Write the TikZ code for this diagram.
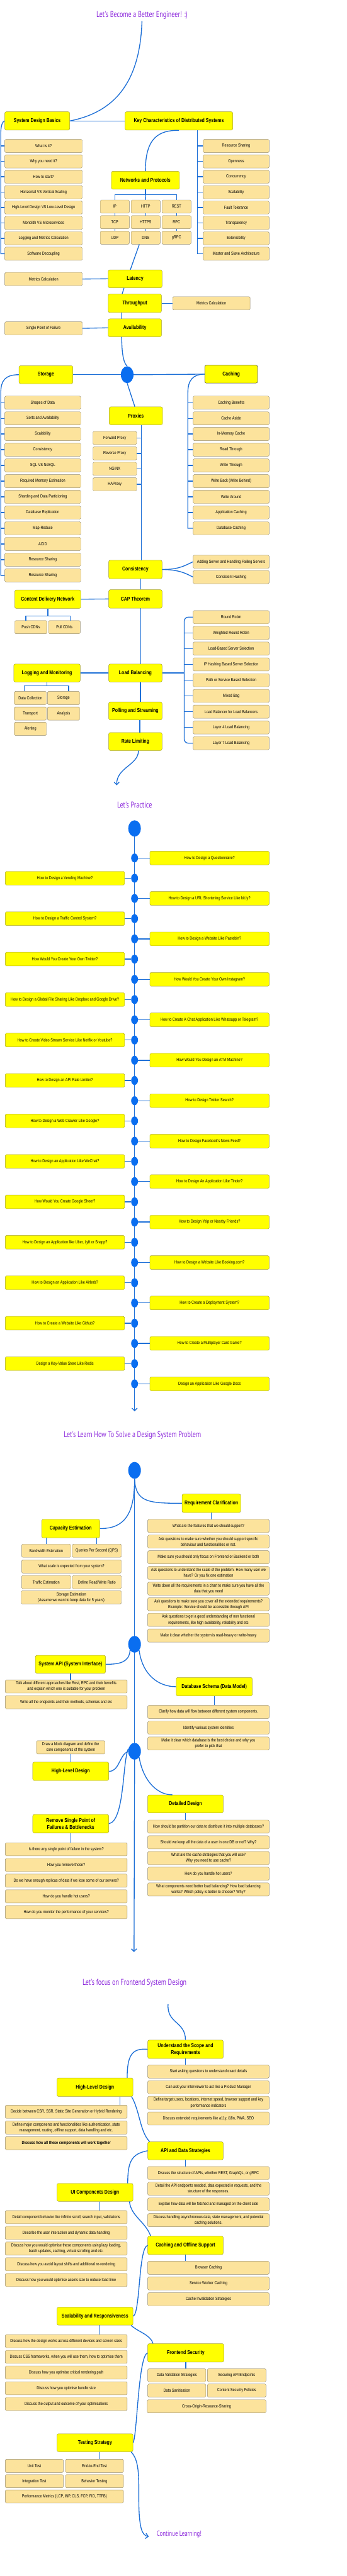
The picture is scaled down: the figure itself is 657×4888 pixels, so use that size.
\documentclass[tikz,border=0pt]{standalone}
\usepackage{fontspec}
\setmainfont{Liberation Sans}[FakeStretch=0.8]
\newfontfamily\titlefont{PT Sans}[FakeStretch=0.75]
\usepackage{tikz}
\usetikzlibrary{shapes.geometric, arrows.meta, positioning}
\definecolor{topicfill}{RGB}{255, 255, 0}
\definecolor{topicline}{RGB}{165, 160, 45}
\definecolor{leaffill}{RGB}{252, 227, 156}
\definecolor{leafline}{RGB}{150, 140, 110}
\definecolor{linkblue}{RGB}{30, 112, 215}
\definecolor{dotblue}{RGB}{10, 110, 240}
\definecolor{headviolet}{RGB}{140, 40, 220}

\begin{document}
\begin{tikzpicture}[
  x=1pt, y=-1pt,
  topic/.style={
    draw=topicline, fill=topicfill, rounded corners=3pt, line width=0.6pt,
    minimum height=34, inner sep=1pt, align=center,
    font=\fontsize{10.4}{13}\selectfont\bfseries
  },
  leaf/.style={
    draw=leafline, fill=leaffill, rounded corners=2pt, line width=0.5pt,
    minimum height=25, inner sep=1pt, align=center,
    font=\fontsize{8.3}{11}\selectfont
  },
  qbox/.style={leaf, draw=topicline, fill=topicfill, minimum width=226, minimum height=26},
  hub/.style={ellipse, fill=dotblue, minimum width=24, minimum height=32, inner sep=0pt},
  bead/.style={ellipse, fill=dotblue, minimum width=13, minimum height=17, inner sep=0pt},
  wire/.style={draw=linkblue, line width=1.6pt},
  tip/.style={-{Straight Barb[length=5pt, width=10pt]}},
  heading/.style={text=headviolet, font=\titlefont\fontsize{16}{19}\selectfont}
]
  \fill[white] (0,0) rectangle (657,4888);
  \useasboundingbox (0,0) rectangle (657,4888);

  % ---------- basics ----------
  \node[heading] (title1) at (269,29) {Let's Become a Better Engineer! :)};
  \node[topic, minimum width=123, minimum height=35] (sdb) at (70.5,229.5) {System Design Basics};
  \node[topic, minimum width=204, minimum height=35] (kcd) at (339,229.5) {Key Characteristics of Distributed Systems};
  \draw[wire] (title1.south) .. controls (265,170) and (205,215) .. (sdb.east);
  \draw[wire] (sdb.east) -- (kcd.west);

  \node[leaf, minimum width=147] (sb1) at (82.5,277) {What is it?};
  \node[leaf, minimum width=147, below=3.7pt of sb1] (sb2) {Why you need it?};
  \node[leaf, minimum width=147, below=3.7pt of sb2] (sb3) {How to start?};
  \node[leaf, minimum width=147, below=3.7pt of sb3] (sb4) {Horizontal VS Vertical Scaling};
  \node[leaf, minimum width=147, below=3.7pt of sb4] (sb5) {High-Level Design VS Low-Level Design};
  \node[leaf, minimum width=147, below=3.7pt of sb5] (sb6) {Monolith VS Microservices};
  \node[leaf, minimum width=147, below=3.7pt of sb6] (sb7) {Logging and Metrics Calculation};
  \node[leaf, minimum width=147, below=3.7pt of sb7] (sb8) {Software Decoupling};
  \draw[wire] (sdb.west) .. controls (6,229.5) and (1.5,236) .. (1.5,252) |- (sb8.west);
  \foreach \i in {1,...,7} \draw[wire] ([xshift=-7.5pt]sb\i.west) -- (sb\i.west);

  \node[leaf, minimum width=125] (kc1) at (447.5,277) {Resource Sharing};
  \node[leaf, minimum width=125, below=3.7pt of kc1] (kc2) {Openness};
  \node[leaf, minimum width=125, below=3.7pt of kc2] (kc3) {Concurrency};
  \node[leaf, minimum width=125, below=3.7pt of kc3] (kc4) {Scalability};
  \node[leaf, minimum width=125, below=3.7pt of kc4] (kc5) {Fault Tolerance};
  \node[leaf, minimum width=125, below=3.7pt of kc5] (kc6) {Transparency};
  \node[leaf, minimum width=125, below=3.7pt of kc6] (kc7) {Extensibility};
  \node[leaf, minimum width=125, below=3.7pt of kc7] (kc8) {Master and Slave Architecture};
  \draw[wire] ([xshift=35pt]kcd.south) |- (kc8.west);
  \foreach \i in {1,...,7} \draw[wire] ([xshift=-11pt]kc\i.west) -- (kc\i.west);

  \node[topic, minimum width=129] (np) at (275.5,342) {Networks and Protocols};
  \draw[wire] (kcd.south) .. controls (300,247) and (275.5,262) .. (np.north);
  \node[leaf, minimum width=55] (p11) at (217.5,392) {IP};
  \node[leaf, minimum width=55] (p12) at (276,392) {HTTP};
  \node[leaf, minimum width=55] (p13) at (334.5,392) {REST};
  \node[leaf, minimum width=55] (p21) at (217.5,421.5) {TCP};
  \node[leaf, minimum width=55] (p22) at (276,421.5) {HTTPS};
  \node[leaf, minimum width=55] (p23) at (334.5,421.5) {RPC};
  \node[leaf, minimum width=55] (p31) at (217.5,451) {UDP};
  \node[leaf, minimum width=55] (p32) at (276,451) {DNS};
  \node[leaf, minimum width=55] (p33) at (334.5,451) {gRPC};
  \draw[wire] (np.south) -- ++(0,10) coordinate (npb);
  \draw[wire] (p11.north) |- (npb) -| (p13.north);
  \draw[wire] (npb) -- (p12.north);
  \foreach \c in {1,2,3} {
    \draw[wire] (p1\c.south) -- (p2\c.north);
    \draw[wire] (p2\c.south) -- (p3\c.north);
  }

  \node[topic, minimum width=102] (lat) at (256,529) {Latency};
  \node[leaf, minimum width=147] (mc1) at (82.5,529.5) {Metrics Calculation};
  \node[topic, minimum width=101, minimum height=35] (thr) at (255.5,575.5) {Throughput};
  \node[leaf, minimum width=147] (mc2) at (400.5,575.5) {Metrics Calculation};
  \node[topic, minimum width=101] (avl) at (255.5,622) {Availability};
  \node[leaf, minimum width=147] (spf) at (82.5,623) {Single Point of Failure};
  \draw[wire] ([xshift=-12pt]p32.south) -- ([xshift=-9pt]lat.north);
  \draw[wire] (mc1.east) -- (lat.west);
  \draw[wire] ([xshift=-21pt]lat.south) -- ([xshift=-24pt]thr.north);
  \draw[wire] (thr.east) -- (mc2.west);
  \draw[wire] ([xshift=-26pt]thr.south) -- ([xshift=-26pt]avl.north);
  \draw[wire] (spf.east) -- (avl.west);

  \node[hub] (hub1) at (241,711) {};
  \node[topic, minimum width=102] (stg) at (87,711) {Storage};
  \node[topic, minimum width=100, draw=black!80] (cch) at (438,710) {Caching};
  \node[topic, minimum width=101] (prx) at (257.5,789) {Proxies};
  \draw[wire] ([xshift=-25pt]avl.south) .. controls (231,680) and (236,690) .. (hub1.north);
  \draw[wire] (hub1.west) -- (stg.east);
  \draw[wire] (hub1.east) -- (cch.west);
  \draw[wire] (hub1.south) -- ([xshift=-2pt]prx.north);

  \node[leaf, minimum width=144] (st1) at (81,764) {Shapes of Data};
  \node[leaf, minimum width=144, below=4.3pt of st1] (st2) {Sorts and Availability};
  \node[leaf, minimum width=144, below=4.3pt of st2] (st3) {Scalability};
  \node[leaf, minimum width=144, below=4.3pt of st3] (st4) {Consistency};
  \node[leaf, minimum width=144, below=4.3pt of st4] (st5) {SQL VS NoSQL};
  \node[leaf, minimum width=144, below=4.3pt of st5] (st6) {Required Memory Estimation};
  \node[leaf, minimum width=144, below=4.3pt of st6] (st7) {Sharding and Data Particioning};
  \node[leaf, minimum width=144, below=4.3pt of st7] (st8) {Database Replication};
  \node[leaf, minimum width=144, below=4.3pt of st8] (st9) {Map-Reduce};
  \node[leaf, minimum width=144, below=4.3pt of st9] (st10) {ACID};
  \node[leaf, minimum width=144, below=4.3pt of st10] (st11) {Resource Sharing};
  \node[leaf, minimum width=144, below=4.3pt of st11] (st12) {Resource Sharing};
  \draw[wire] (stg.west) .. controls (10,711) and (1.5,722) .. (1.5,745) |- (st12.west);
  \foreach \i in {1,...,11} \draw[wire] ([xshift=-7.5pt]st\i.west) -- (st\i.west);

  \node[leaf, minimum width=144] (ca1) at (438,764) {Caching Benefits};
  \node[leaf, minimum width=144, below=4.3pt of ca1] (ca2) {Cache Aside};
  \node[leaf, minimum width=144, below=4.3pt of ca2] (ca3) {In-Memory Cache};
  \node[leaf, minimum width=144, below=4.3pt of ca3] (ca4) {Read Through};
  \node[leaf, minimum width=144, below=4.3pt of ca4] (ca5) {Write Through};
  \node[leaf, minimum width=144, below=4.3pt of ca5] (ca6) {Write Back (Write Behind)};
  \node[leaf, minimum width=144, below=4.3pt of ca6] (ca7) {Write Around};
  \node[leaf, minimum width=144, below=4.3pt of ca7] (ca8) {Application Caching};
  \node[leaf, minimum width=144, below=4.3pt of ca8] (ca9) {Database Caching};
  \draw[wire] (cch.west) .. controls (365,710) and (356,722) .. (356,745) |- (ca9.west);
  \foreach \i in {1,...,8} \draw[wire] ([xshift=-10pt]ca\i.west) -- (ca\i.west);

  \node[leaf, minimum width=83] (px1) at (217.5,831) {Forward Proxy};
  \node[leaf, minimum width=83, below=3.8pt of px1] (px2) {Reverse Proxy};
  \node[leaf, minimum width=83, below=3.8pt of px2] (px3) {NGINX};
  \node[leaf, minimum width=83, below=3.8pt of px3] (px4) {HAProxy};

  \node[topic, minimum width=101, minimum height=35] (con) at (256.5,1080.5) {Consistency};
  \node[leaf, minimum width=144] (cr1) at (438,1066) {Adding Server and Handling Failing Servers};
  \node[leaf, minimum width=144] (cr2) at (438,1095) {Consistent Hashing};
  \coordinate (pxspine) at (268,806);
  \draw[wire] ([xshift=10.5pt]prx.south) -- ([xshift=11.5pt]con.north);
  \foreach \i in {1,...,4} \draw[wire] (px\i.east) -- (px\i.east -| pxspine);
  \draw[wire] (con.east) .. controls (340,1081) and (352,1072) .. (cr1.west);
  \draw[wire] (con.east) .. controls (340,1081) and (352,1088) .. (cr2.west);

  \node[topic, minimum width=101, minimum height=35] (cap) at (256.5,1136.5) {CAP Theorem};
  \node[topic, minimum width=125, minimum height=35] (cdn) at (90.5,1137) {Content Delivery Network};
  \node[leaf, minimum width=61] (push) at (58.5,1190) {Push CDNs};
  \node[leaf, minimum width=60] (pull) at (122,1190) {Pull CDNs};
  \draw[wire] ([xshift=10.5pt]con.south) -- ([xshift=10.5pt]cap.north);
  \draw[wire] (cdn.east) -- (cap.west);
  \draw[wire] (cdn.south) -- ++(0,14) coordinate (cdnb);
  \draw[wire] ([xshift=-9.5pt]push.north) |- (cdnb) -| ([xshift=11pt]pull.north);

  \node[topic, minimum width=101] (lb) at (256.5,1277) {Load Balancing};
  \draw[wire] ([xshift=10pt]cap.south) -- ([xshift=10pt]lb.north);
  \node[leaf, minimum width=144] (lbx1) at (438,1171) {Round Robin};
  \node[leaf, minimum width=144, below=4.4pt of lbx1] (lbx2) {Weighted Round Robin};
  \node[leaf, minimum width=144, below=4.4pt of lbx2] (lbx3) {Load-Based Server Selection};
  \node[leaf, minimum width=144, below=4.4pt of lbx3] (lbx4) {IP Hashing Based Server Selection};
  \node[leaf, minimum width=144, below=4.4pt of lbx4] (lbx5) {Path or Service Based Selection};
  \node[leaf, minimum width=144, below=4.4pt of lbx5] (lbx6) {Mixed Bag};
  \node[leaf, minimum width=144, below=4.4pt of lbx6] (lbx7) {Load Balancer for Load Balancers};
  \node[leaf, minimum width=144, below=4.4pt of lbx7] (lbx8) {Layer 4 Load Balancing};
  \node[leaf, minimum width=144, below=4.4pt of lbx8] (lbx9) {Layer 7 Load Balancing};
  \coordinate (lbsp) at (349,1277);
  \draw[wire, rounded corners=8pt] (lbx1.west) -| (lbsp) |- (lbx9.west);
  \draw[wire] (lb.east) -- (lbsp);
  \foreach \i in {2,...,8} \draw[wire] (lbx\i.west -| lbsp) -- (lbx\i.west);

  \node[topic, minimum width=126] (lm) at (89,1277) {Logging and Monitoring};
  \node[leaf, minimum width=61] (lm1) at (57.5,1324.5) {Data Collection};
  \node[leaf, minimum width=61] (lm2) at (120.5,1324.5) {Storage};
  \node[leaf, minimum width=61] (lm3) at (57.5,1354) {Transport};
  \node[leaf, minimum width=61] (lm4) at (120.5,1354) {Analysis};
  \node[leaf, minimum width=61] (lm5) at (57.5,1383) {Alerting};
  \draw[wire] (lm.east) -- (lb.west);
  \draw[wire] (lm.south) -- ++(0,7) coordinate (lmb);
  \draw[wire] ([xshift=-11.5pt]lm1.north) |- (lmb) -| ([xshift=9.5pt]lm2.north);

  \node[topic, minimum width=101] (ps) at (256.5,1349) {Polling and Streaming};
  \node[topic, minimum width=101] (rl) at (256.5,1407) {Rate Limiting};
  \draw[wire] ([xshift=9.5pt]lb.south) -- ([xshift=9.5pt]ps.north);
  \draw[wire] ([xshift=8.5pt]ps.south) -- ([xshift=8.5pt]rl.north);
  \coordinate (rlend) at (221,1490);
  \draw[wire, tip] ([xshift=6pt]rl.south) .. controls (262,1452) and (221,1456) .. (rlend);

  % ---------- practice ----------
  \node[heading] (title2) at (255,1527) {Let's Practice};
  \node[hub, minimum height=31] (hub2) at (255,1572) {};
  \coordinate (tlend) at (255,2678);
  \draw[wire, tip] (hub2.south) -- (tlend);
  \foreach \i/\x/\t in {
    1/397/{How to Design a Questionnaire?},
    2/123/{How to Design a Vending Machine?},
    3/397/{How to Design a URL Shortening Service Like bit.ly?},
    4/123/{How to Design a Traffic Control System?},
    5/397/{How to Design a Website Like Pastebin?},
    6/123/{How Would You Create Your Own Twitter?},
    7/397/{How Would You Create Your Own Instagram?},
    8/123/{How to Design a Global File Sharing Like Dropbox and Google Drive?},
    9/397/{How to Create A Chat Application Like Whatsapp or Telegram?},
    10/123/{How to Create Video Stream Service Like Netflix or Youtube?},
    11/397/{How Would You Design an ATM Machine?},
    12/123/{How to Design an API Rate Limiter?},
    13/397/{How to Design Twitter Search?},
    14/123/{How to Design a Web Crawler Like Google?},
    15/397/{How to Design Facebook's News Feed?},
    16/123/{How to Design an Application Like WeChat?},
    17/397/{How to Design An Application Like Tinder?},
    18/123/{How Would You Create Google Sheet?},
    19/397/{How to Design Yelp or Nearby Friends?},
    20/123/{How to Design an Application like Uber, Lyft or Snapp?},
    21/397/{How to Design a Website Like Booking.com?},
    22/123/{How to Design an Application Like Airbnb?},
    23/397/{How to Create a Deployment System?},
    24/123/{How to Create a Website Like Github?},
    25/397/{How to Create a Multiplayer Card Game?},
    26/123/{Design a Key-Value Store Like Redis},
    27/397/{Design an Application Like Google Docs}} {
    \pgfmathsetmacro\y{1628+38.38*(\i-1)}
    \node[bead] (d\i) at (255,\y) {};
    \node[qbox] (q\i) at (\x,\y) {\t};
    \draw[wire] (d\i) -- (q\i);
  }

  % ---------- solving a problem ----------
  \node[heading] (title3) at (251,2723) {Let's Learn How To Solve a Design System Problem};
  \node[hub] (hub3) at (255,2790) {};
  \node[hub] (hub4) at (255,3120) {};
  \node[hub] (hub5) at (255,3323) {};
  \coordinate (send) at (254,3704);
  \draw[wire] (hub3.south) -- (hub4.north);
  \draw[wire] (hub4.south) -- (hub5.north);
  \draw[wire, tip] (hub5.south) -- (send);

  \node[topic, minimum width=111, minimum height=35] (rc) at (400.5,2852.5) {Requirement Clarification};
  \draw[wire] (hub3.south) .. controls (257,2850) and (280,2852.5) .. (rc.west);
  \node[leaf, minimum width=230] (rq1) at (395,2895.5) {What are the features that we should support?};
  \node[leaf, minimum width=230, below=4.2pt of rq1] (rq2) {Ask questions to make sure  whether you should support specific\\behaviour and functionalities or not.};
  \node[leaf, minimum width=230, below=4.2pt of rq2] (rq3) {Make sure you should only focus on Frontend or Backend or both};
  \node[leaf, minimum width=230, below=4.2pt of rq3] (rq4) {Ask questions to understand the scale of the problem. How many user we\\have? Or you fix one estimation};
  \node[leaf, minimum width=230, below=4.2pt of rq4] (rq5) {Write down all the requirements in a chart to make sure you have all the\\data that you need};
  \node[leaf, minimum width=230, below=4.2pt of rq5] (rq6) {Ask questions  to make sure you cover all the extended requirements?\\Example: Service should be accessible through API};
  \node[leaf, minimum width=230, below=4.2pt of rq6] (rq7) {Ask questions to get a good understanding of non functional\\requirements, like high availability, reliability and etc};
  \node[leaf, minimum width=230, below=4.2pt of rq7] (rq8) {Make it clear whether the system is read-heavy or write-heavy};
  \draw[wire] (rc.south) -- (rc.south |- rq1.north);

  \node[topic, minimum width=110, minimum height=35] (ce) at (134,2900.5) {Capacity Estimation};
  \draw[wire] (hub3.south) .. controls (255,2875) and (235,2900.5) .. (ce.east);
  \node[leaf, minimum width=93] (ce1) at (87.5,2942.5) {Bandwidth Estimation};
  \node[leaf, minimum width=93] (ce2) at (183.5,2942.5) {Queries Per Second (QPS)};
  \node[leaf, minimum width=189] (ce3) at (135.5,2972.5) {What scale is expected from your system?};
  \node[leaf, minimum width=93] (ce4) at (87.5,3002) {Traffic Estimation};
  \node[leaf, minimum width=93] (ce5) at (183.5,3002) {Define Read/Write Ratio};
  \node[leaf, minimum width=190] (ce6) at (135,3031) {Storage Estimation\\(Assume we want to keep data for 5 years)};
  \draw[wire] (ce.south -| ce1.north) -- (ce1.north);
  \draw[wire] (ce.south -| ce2.north) -- (ce2.north);

  \node[topic, minimum width=133] (sa) at (133.5,3158) {System API (System Interface)};
  \draw[wire] (hub4.south west) .. controls (245,3155) and (225,3158) .. (sa.east);
  \node[leaf, minimum width=231] (sa1) at (125.5,3200) {Talk about different approaches like Rest, RPC and their benefits\\and explain which one is suitable for your problem};
  \node[leaf, minimum width=231, below=4.5pt of sa1] (sa2) {Write all the endpoints and their methods, schemas and etc};
  \draw[wire] (sa.south) -- (sa.south |- sa1.north);

  \node[topic, minimum width=144, minimum height=35] (ds) at (406,3200.5) {Database Schema (Data Model)};
  \draw[wire] (hub4.south east) .. controls (270,3178) and (300,3200.5) .. (ds.west);
  \node[leaf, minimum width=230] (ds1) at (395,3248.5) {Clarify how data will flow between different system components.};
  \node[leaf, minimum width=230, below=4.4pt of ds1] (ds2) {Identify various system identities};
  \node[leaf, minimum width=230, below=4.4pt of ds2] (ds3) {Make it clear which database is the best choice and why you\\prefer to pick that};
  \draw[wire] (ds.south) -- (ds.south |- ds1.north);

  \node[leaf, minimum width=130] (dbd) at (134,3315.5) {Draw a block diagram and define the\\core components of the system};
  \node[topic, minimum width=144, minimum height=35] (hld) at (134,3361) {High-Level Design};
  \draw[wire] (hld.north) -- (dbd.south);
  \draw[wire] (hub5.west) .. controls (226,3330) and (226,3362) .. (hld.east);

  \node[topic, minimum width=144, minimum height=35, font=\fontsize{10.4}{13}\selectfont\bfseries] (rsp) at (134,3460.5) {Remove Single Point of\\Failures \& Bottlenecks};
  \draw[wire] ([yshift=4pt]hub5.west) .. controls (232,3345) and (236,3455) .. (rsp.east);
  \node[leaf, minimum width=231] (rs1) at (125.5,3509) {Is there any single point of failure in the system?};
  \node[leaf, minimum width=231, below=4.3pt of rs1] (rs2) {How you remove those?};
  \node[leaf, minimum width=231, below=4.3pt of rs2] (rs3) {Do we have enough replicas of data if we lose some of our servers?};
  \node[leaf, minimum width=231, below=4.3pt of rs3] (rs4) {How do you handle hot users?};
  \node[leaf, minimum width=231, below=4.3pt of rs4] (rs5) {How do you monitor the performance of your services?};
  \draw[wire] (rsp.south) -- (rsp.south |- rs1.north);

  \node[topic, minimum width=143] (dd) at (351.5,3423) {Detailed Design};
  \draw[wire] (hub5.south east) .. controls (272,3382) and (300,3406) .. ([xshift=-25pt]dd.north);
  \node[leaf, minimum width=230] (dq1) at (395,3466) {How should be partition our data to distribute it into multiple databases?};
  \node[leaf, minimum width=230, below=4.3pt of dq1] (dq2) {Should we keep all the data  of a user in one DB or not? Why?};
  \node[leaf, minimum width=230, below=4.3pt of dq2] (dq3) {What are the cache strategies that you will use?\\Why you need to use cache?};
  \node[leaf, minimum width=230, below=4.3pt of dq3] (dq4) {How do you handle hot users?};
  \node[leaf, minimum width=230, below=4.3pt of dq4] (dq5) {What components need better load balancing? How load balancing\\works? Which policy is better to choose? Why?};
  \draw[wire] (dd.south) -- (dd.south |- dq1.north);

  % ---------- frontend ----------
  \node[heading] (title4) at (255,3763) {Let's focus on Frontend System Design};
  \coordinate (fstart) at (318.5,3803);
  \node[topic, minimum width=143, minimum height=35] (usr) at (351.5,3888.5) {Understand the Scope and\\Requirements};
  \draw[wire] (fstart) .. controls (316,3840) and (351,3835) .. (usr.north);
  \node[leaf, minimum width=230] (us1) at (395,3930.7) {Start asking questions to understand exact details};
  \node[leaf, minimum width=230, below=4.2pt of us1] (us2) {Can ask your interviewer to act like a Product Manager};
  \node[leaf, minimum width=230, below=4.2pt of us2] (us3) {Define target users, locations, internet speed, browser support and key\\performance indicators};
  \node[leaf, minimum width=230, below=4.2pt of us3] (us4) {Discuss extended requirements like a11y, i18n, PWA, SEO};
  \draw[wire] (usr.south) -- (usr.south |- us1.north);

  \node[topic, minimum width=144, minimum height=35] (fhl) at (180,3960.5) {High-Level Design};
  \draw[wire] (usr.west) .. controls (250,3886) and (241,3900) .. ([xshift=61pt]fhl.north);
  \node[leaf, minimum width=231] (fh1) at (125.5,4007) {Decide between CSR, SSR, Static Site Generation or Hybrid Rendering};
  \node[leaf, minimum width=231, below=4.4pt of fh1] (fh2) {Define major components and functionalities like authentication, state\\management, routing, offline support, data handling and etc.};
  \node[leaf, minimum width=231, below=4.4pt of fh2, font=\fontsize{8.3}{11}\selectfont\bfseries] (fh3) {Discuss how all these components will work together};
  \draw[wire] ([xshift=47pt]fhl.south) -- ([xshift=101.5pt]fh1.north);

  \node[topic, minimum width=143] (ads) at (351.5,4081) {API and Data Strategies};
  \draw[wire] ([xshift=-3pt]fhl.south east) .. controls (265,4005) and (265,4045) .. ([xshift=-68pt]ads.north);
  \node[leaf, minimum width=230] (ad1) at (395,4123.3) {Discuss the structure of APIs, whether REST, GraphQL, or gRPC};
  \node[leaf, minimum width=230, below=4.3pt of ad1] (ad2) {Detail the API endpoints needed, data expected in requests, and the\\structure of the responses.};
  \node[leaf, minimum width=230, below=4.3pt of ad2] (ad3) {Explain how data will be fetched and managed on the client side};
  \node[leaf, minimum width=230, below=4.3pt of ad3] (ad4) {Discuss handling asynchronous data, state management, and potential\\caching solutions.};
  \draw[wire] (ads.south) -- (ads.south |- ad1.north);

  \node[topic, minimum width=144] (uic) at (180,4160) {UI Components Design};
  \draw[wire] (ads.west) .. controls (250,4087) and (242,4100) .. ([xshift=62pt]uic.north);
  \node[leaf, minimum width=231] (ui1) at (125.5,4207) {Detail component behavior like infinite scroll, search input, validations};
  \node[leaf, minimum width=231, below=4.3pt of ui1] (ui2) {Describe the user interaction and dynamic data handling};
  \node[leaf, minimum width=231, below=4.3pt of ui2] (ui3) {Discuss how you would optimise these components using lazy loading,\\batch updates, caching, virtual scrolling and etc.};
  \node[leaf, minimum width=231, below=4.3pt of ui3] (ui4) {Discuss how you avoid layout shifts and additional re-rendering};
  \node[leaf, minimum width=231, below=4.3pt of ui4] (ui5) {Discuss how you would optimise assets size to reduce load time};
  \draw[wire] ([xshift=8pt]uic.south) -- ([xshift=62.5pt]ui1.north);

  \node[topic, minimum width=143, minimum height=35] (cos) at (351.5,4260.5) {Caching and Offline Support};
  \draw[wire] ([xshift=-7pt]uic.south east) .. controls (248,4205) and (275,4215) .. ([xshift=-66pt]cos.north);
  \node[leaf, minimum width=230] (co1) at (395,4303) {Browser Caching};
  \node[leaf, minimum width=230, below=4.3pt of co1] (co2) {Service Worker Caching};
  \node[leaf, minimum width=230, below=4.3pt of co2] (co3) {Cache Invalidation Strategies};
  \draw[wire] (cos.south) -- (cos.south |- co1.north);

  \node[topic, minimum width=144] (sr) at (180,4395) {Scalability and Responsiveness};
  \draw[wire] (cos.west) .. controls (262,4266) and (266,4390) .. (sr.east);
  \node[leaf, minimum width=231] (sr1) at (125.5,4442.3) {Discuss how the design works across different devices and screen sizes};
  \node[leaf, minimum width=231, below=4.3pt of sr1] (sr2) {Discuss CSS frameworks, when you will use them, how to optimise them};
  \node[leaf, minimum width=231, below=4.3pt of sr2] (sr3) {Discuss how you optimise critical rendering path};
  \node[leaf, minimum width=231, below=4.3pt of sr3] (sr4) {Discuss how you optimise bundle size};
  \node[leaf, minimum width=231, below=4.3pt of sr4] (sr5) {Discuss the output and outcome of your optimisations};
  \draw[wire] ([xshift=8pt]sr.south) -- ([xshift=62.5pt]sr1.north);

  \node[topic, minimum width=144, minimum height=35] (fs) at (352,4464.5) {Frontend Security};
  \draw[wire] ([xshift=-4pt]sr.south east) .. controls (262,4425) and (285,4430) .. ([xshift=-62pt]fs.north);
  \node[leaf, minimum width=110] (fs1) at (335,4507) {Data Validation Strategies};
  \node[leaf, minimum width=111] (fs2) at (448.5,4507) {Securing API Endpoints};
  \node[leaf, minimum width=110] (fs3) at (335,4536) {Data Sanitisation};
  \node[leaf, minimum width=111] (fs4) at (448.5,4536) {Content Security Policies};
  \node[leaf, minimum width=225] (fs5) at (391.5,4566) {Cross-Origin-Resource-Sharing};
  \draw[wire] (fs.south) -- (fs.south |- fs1.north);

  \node[topic, minimum width=144] (ts) at (180,4635) {Testing Strategy};
  \draw[wire] (fs.west) .. controls (262,4470) and (260,4620) .. (ts.east);
  \node[leaf, minimum width=110] (t1) at (65,4679) {Unit Test};
  \node[leaf, minimum width=110] (t2) at (179,4679) {End-to-End Test};
  \node[leaf, minimum width=110] (t3) at (65,4708) {Integration Test};
  \node[leaf, minimum width=110] (t4) at (179,4708) {Behavior Testing};
  \node[leaf, minimum width=224] (t5) at (122,4737) {Performance Metrics (LCP, INP, CLS, FCP, FID, TTFB)};
  \draw[wire] ([xshift=8pt]ts.south) -- ([xshift=9pt]t2.north);

  \coordinate (cend) at (282,4813);
  \draw[wire, tip] ([xshift=-4pt]ts.south east) .. controls (264,4668) and (263,4700) .. (263,4740)
    .. controls (263,4800) and (270,4811) .. (cend);
  \node[heading, font=\titlefont\fontsize{14}{17}\selectfont] (title5) at (339.5,4809) {Continue Learning!};
\end{tikzpicture}
\end{document}
